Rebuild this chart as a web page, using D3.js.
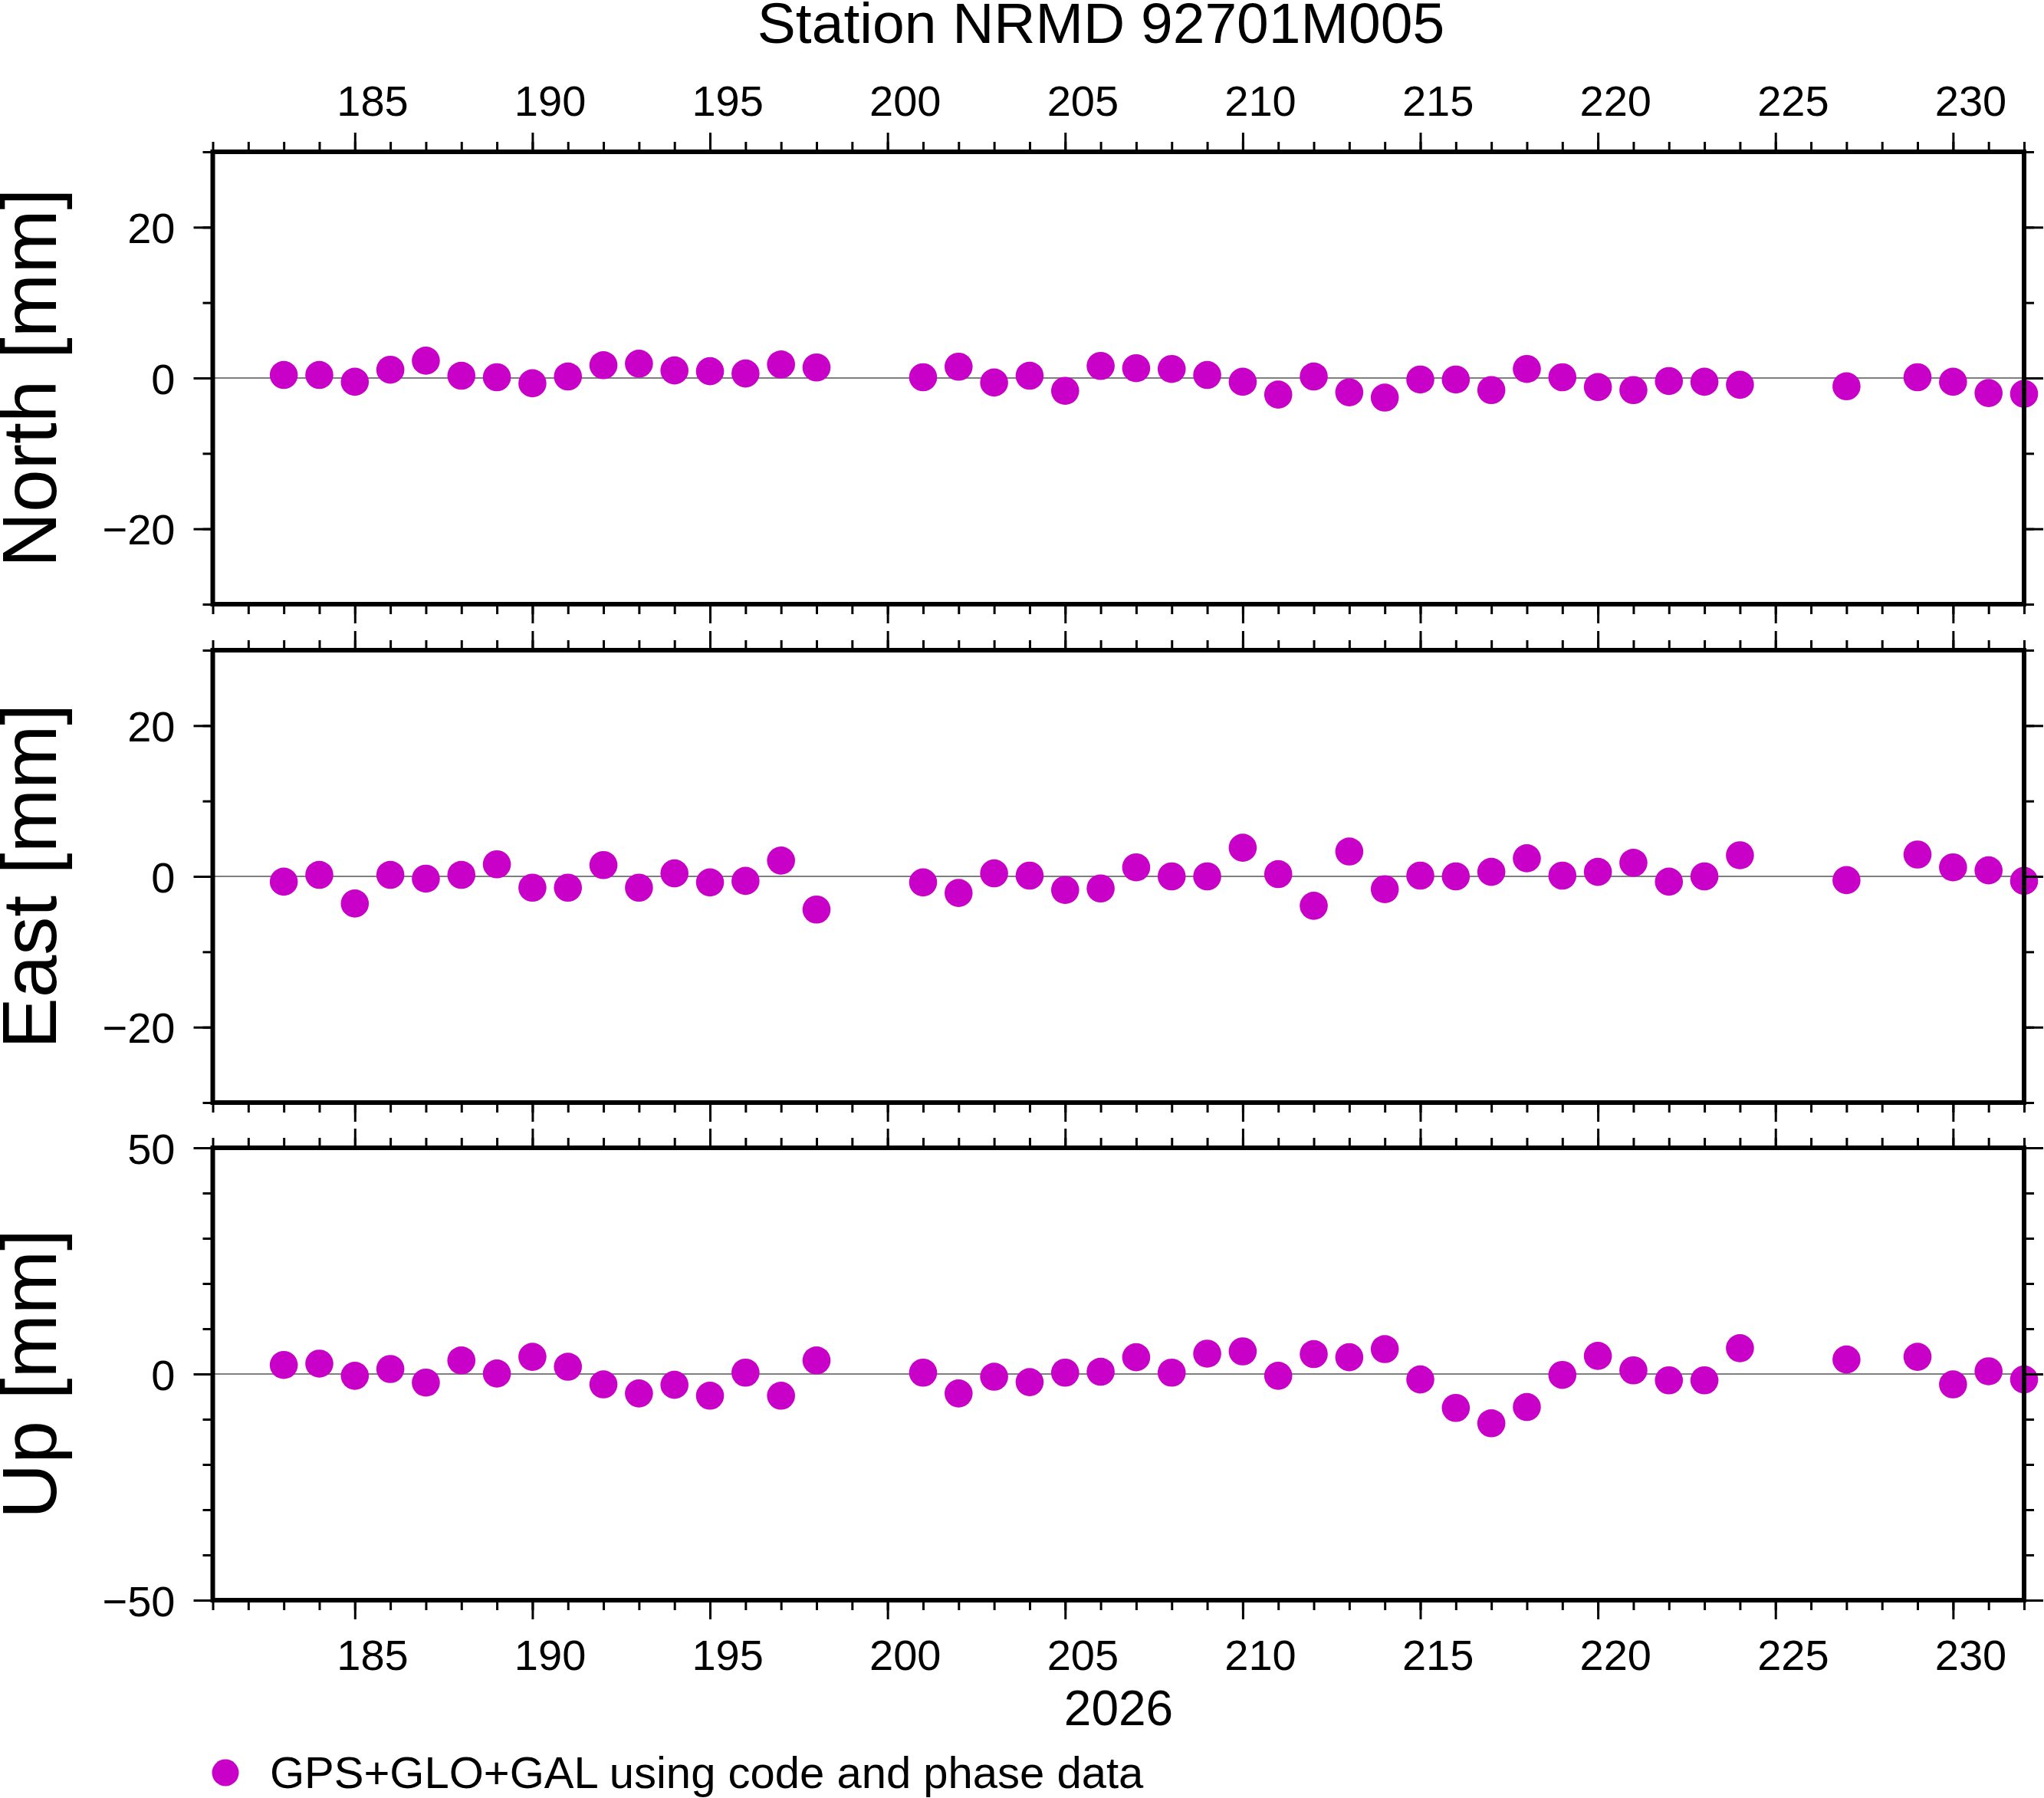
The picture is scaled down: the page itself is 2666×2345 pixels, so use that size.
<!DOCTYPE html>
<html>
<head>
<meta charset="utf-8">
<script src="https://cdn.jsdelivr.net/npm/d3@7"></script>
<style>
  body { margin: 0; background: #fff; }
  text { font-family: "Liberation Sans", Arial, Helvetica, sans-serif; fill: #000; }
</style>
</head>
<body>
<div id="chart"></div>
<script>
// day of year 2026
const days = [183, 184, 185, 186, 187, 188, 189, 190, 191, 192, 193, 194, 195, 196, 197, 198,
  201, 202, 203, 204, 205, 206, 207, 208, 209, 210, 211, 212, 213, 214, 215, 216, 217, 218, 219, 220, 221, 222, 223, 224,
  227, 229, 230, 231, 232];

const north = [0.4, 0.4, -0.5, 1.1, 2.3, 0.3, 0.1, -0.7, 0.2, 1.7, 1.9, 1.0, 0.9, 0.6, 1.8, 1.4,
  0.1, 1.5, -0.6, 0.3, -1.7, 1.6, 1.3, 1.2, 0.4, -0.5, -2.2, 0.2, -1.9, -2.6, -0.2, -0.2, -1.6, 1.2, 0.1, -1.2, -1.6, -0.4, -0.5, -0.9,
  -1.1, 0.1, -0.5, -2.0, -2.1];

const east = [-0.7, 0.2, -3.6, 0.2, -0.3, 0.2, 1.6, -1.5, -1.5, 1.5, -1.5, 0.4, -0.8, -0.6, 2.1, -4.4,
  -0.8, -2.2, 0.4, 0.1, -1.8, -1.6, 1.2, 0.0, 0.0, 3.8, 0.3, -3.9, 3.3, -1.7, 0.1, 0.0, 0.6, 2.4, 0.1, 0.6, 1.8, -0.7, 0.0, 2.8,
  -0.5, 2.9, 1.2, 0.8, -0.6];

const up = [2.0, 2.3, -0.4, 1.1, -1.9, 3.0, 0.1, 3.8, 1.6, -2.3, -4.3, -2.4, -4.8, 0.3, -4.8, 3.0,
  0.3, -4.3, -0.6, -1.8, 0.3, 0.5, 3.7, 0.3, 4.5, 5.0, -0.4, 4.4, 3.7, 5.5, -1.2, -7.5, -10.9, -7.3, -0.2, 4.0, 0.8, -1.4, -1.4, 5.7,
  3.2, 3.8, -2.3, 0.6, -1.2];

const xDomain = [181, 232];
const xMajor = [185, 190, 195, 200, 205, 210, 215, 220, 225, 230];
const xMinor = d3.range(181, 233);

const panels = [
  { label: "North [mm]", values: north, domain: [-30, 30], major: [-20, 0, 20], minor: [-30, -20, -10, 0, 10, 20, 30] },
  { label: "East [mm]", values: east, domain: [-30, 30], major: [-20, 0, 20], minor: [-30, -20, -10, 0, 10, 20, 30] },
  { label: "Up [mm]", values: up, domain: [-50, 50], major: [-50, 0, 50], minor: [-50, -40, -30, -20, -10, 0, 10, 20, 30, 40, 50] }
];

const title = "Station NRMD 92701M005";
const yearLabel = "2026";
const legendText = "GPS+GLO+GAL using code and phase data";

const W = 2666, H = 2345;
const left = 277.5, right = 2640;
const panelTops = [198, 848, 1497];
const panelH = 590;
const color = "#c800c8";
const majorLen = 25, minorLen = 13;

const svg = d3.select("#chart").append("svg")
  .attr("width", W).attr("height", H)
  .attr("viewBox", `0 0 ${W} ${H}`);
svg.append("rect").attr("width", W).attr("height", H).attr("fill", "#fff");

const x = d3.scaleLinear().domain(xDomain).range([left, right]);

function styleAxis(g) {
  g.select(".domain").remove();
  g.selectAll(".tick line").attr("stroke", "#000").attr("stroke-width", 3);
}

panels.forEach((p, i) => {
  const top = panelTops[i];
  const y = d3.scaleLinear().domain(p.domain).range([top + panelH, top]);
  const g = svg.append("g");

  // zero line
  g.append("line")
    .attr("x1", left).attr("x2", right)
    .attr("y1", y(0)).attr("y2", y(0))
    .attr("stroke", "#000").attr("stroke-width", 1.2);

  // points
  g.selectAll("circle.pt")
    .data(days.map((d, k) => ({ day: d, v: p.values[k] })))
    .join("circle")
    .attr("class", "pt")
    .attr("cx", d => x(d.day))
    .attr("cy", d => y(d.v))
    .attr("r", 18.3)
    .attr("fill", color);

  // frame
  g.append("rect")
    .attr("x", left).attr("y", top)
    .attr("width", right - left).attr("height", panelH)
    .attr("fill", "none").attr("stroke", "#000").attr("stroke-width", 6);

  // x ticks, top and bottom
  g.append("g").attr("transform", `translate(0,${top})`)
    .call(d3.axisTop(x).tickValues(xMinor).tickSize(minorLen).tickFormat(""))
    .call(styleAxis);
  g.append("g").attr("transform", `translate(0,${top})`)
    .call(d3.axisTop(x).tickValues(xMajor).tickSize(majorLen).tickFormat(""))
    .call(styleAxis);
  g.append("g").attr("transform", `translate(0,${top + panelH})`)
    .call(d3.axisBottom(x).tickValues(xMinor).tickSize(minorLen).tickFormat(""))
    .call(styleAxis);
  g.append("g").attr("transform", `translate(0,${top + panelH})`)
    .call(d3.axisBottom(x).tickValues(xMajor).tickSize(majorLen).tickFormat(""))
    .call(styleAxis);

  // y ticks, left (labelled) and right
  g.append("g").attr("transform", `translate(${left},0)`)
    .call(d3.axisLeft(y).tickValues(p.minor).tickSize(minorLen).tickFormat(""))
    .call(styleAxis);
  g.append("g").attr("transform", `translate(${left},0)`)
    .call(d3.axisLeft(y).tickValues(p.major).tickSize(majorLen).tickPadding(24).tickFormat(d3.format("d")))
    .call(styleAxis)
    .call(a => a.selectAll(".tick text")
      .attr("font-size", 56).attr("fill", "#000")
      .attr("font-family", "Liberation Sans, Arial, sans-serif")
      .attr("dy", "0.36em"));
  g.append("g").attr("transform", `translate(${right},0)`)
    .call(d3.axisRight(y).tickValues(p.minor).tickSize(minorLen).tickFormat(""))
    .call(styleAxis);
  g.append("g").attr("transform", `translate(${right},0)`)
    .call(d3.axisRight(y).tickValues(p.major).tickSize(majorLen).tickFormat(""))
    .call(styleAxis);

  // y title
  svg.append("text")
    .attr("transform", `translate(73,${top + panelH / 2}) rotate(-90)`)
    .attr("text-anchor", "middle")
    .attr("font-size", 100)
    .text(p.label);

  // x labels, centred in the day interval
  if (i === 0 || i === panels.length - 1) {
    const ty = i === 0 ? 151 : 2178;
    svg.append("g").selectAll("text")
      .data(xMajor)
      .join("text")
      .attr("x", d => x(d + 0.5))
      .attr("y", ty)
      .attr("text-anchor", "middle")
      .attr("font-size", 56)
      .text(d => d);
  }
});

// title
svg.append("text")
  .attr("x", 1436).attr("y", 56)
  .attr("text-anchor", "middle")
  .attr("font-size", 75)
  .text(title);

// year
svg.append("text")
  .attr("x", 1459).attr("y", 2250)
  .attr("text-anchor", "middle")
  .attr("font-size", 64)
  .text(yearLabel);

// legend
svg.append("circle")
  .attr("cx", 294).attr("cy", 2312).attr("r", 17.5)
  .attr("fill", color);
svg.append("text")
  .attr("x", 352).attr("y", 2332)
  .attr("font-size", 58)
  .text(legendText);
</script>
</body>
</html>
